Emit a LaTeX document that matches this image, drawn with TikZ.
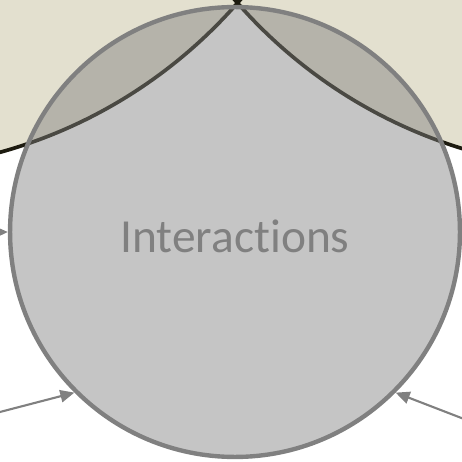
\documentclass[tikz,border=0pt]{standalone}
\usepackage{fontspec}
\setmainfont[Ligatures={NoCommon}]{Carlito}
\usetikzlibrary{arrows.meta}
\definecolor{setfill}{RGB}{227,224,207}
\definecolor{setline}{RGB}{29,27,16}
\definecolor{intergray}{RGB}{128,128,128}

\begin{document}
\begin{tikzpicture}[x=0.02cm, y=-0.02cm, >={Triangle[length=8pt,width=7pt]},
  conn/.style={->, intergray, line width=1.2pt},
  intercircle/.style={circle, draw=intergray, line width=2.5pt, fill=intergray,
    fill opacity=0.46, text opacity=1, text=intergray, minimum size=9cm,
    inner sep=0pt, font=\fontsize{27}{32}\selectfont}]
  \useasboundingbox (0,0) rectangle (462,462);
  \clip (0,0) rectangle (462,462);
  % the two upper sets
  \fill[setfill] (-131,-320) circle (490);
  \fill[setfill] (606,-320) circle (490);
  \draw[setline, line width=2.1pt] (-131,-320) circle (490) (606,-320) circle (490);
  % middle set
  \node[intercircle] (inter) at (235,232) {\raisebox{-2.5pt}[\height][0pt]{Interactions}};
  \coordinate (fromW) at (-60,233);
  \coordinate (fromSW) at (-100,438);
  \coordinate (fromSE) at (560,456);
  \draw[conn] (fromW) -- (inter.west);
  \draw[conn] (fromSW) -- (inter.225);
  \draw[conn] (fromSE) -- (inter.315);
\end{tikzpicture}
\end{document}
